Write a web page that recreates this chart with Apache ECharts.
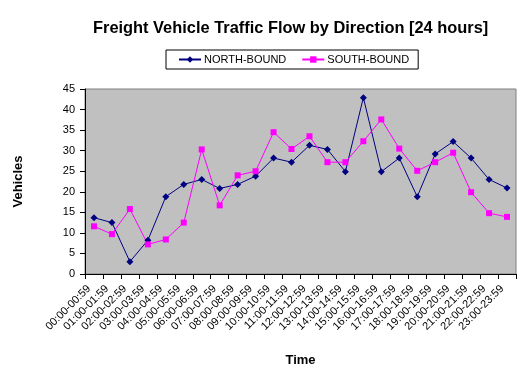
<!DOCTYPE html>
<html><head><meta charset="utf-8">
<script src="https://cdn.jsdelivr.net/npm/echarts@6/dist/echarts.min.js"></script>
<style>html,body{margin:0;padding:0;background:#fff}#c{width:530px;height:375px}</style>
</head><body><div id="c"></div>
<script>
const categories = ["00:00-00:59","01:00-01:59","02:00-02:59","03:00-03:59","04:00-04:59","05:00-05:59","06:00-06:59","07:00-07:59","08:00-08:59","09:00-09:59","10:00-10:59","11:00-11:59","12:00-12:59","13:00-13:59","14:00-14:59","15:00-15:59","16:00-16:59","17:00-17:59","18:00-18:59","19:00-19:59","20:00-20:59","21:00-21:59","22:00-22:59","23:00-23:59"];
const northBound = [13.7,12.5,3.0,8.2,18.8,21.8,23.0,20.8,21.8,23.8,28.2,27.2,31.3,30.3,24.9,42.9,24.9,28.2,18.8,29.2,32.2,28.2,23.0,20.9];
const southBound = [11.6,9.7,15.8,7.2,8.4,12.5,30.3,16.7,24.0,25.0,34.5,30.4,33.5,27.2,27.2,32.3,37.6,30.5,25.1,27.2,29.5,19.9,14.8,13.9];
const yTicks = {min:0,max:45,interval:5};

const chart = echarts.init(document.getElementById('c'), null, {renderer:'canvas'});
const font = 'Arial, "Liberation Sans", sans-serif';
chart.setOption({
  animation:false,
  backgroundColor:'#ffffff',
  title:{text:'Freight Vehicle Traffic Flow by Direction [24 hours]',left:88,top:15,
    textStyle:{fontFamily:font,fontSize:16.4,fontWeight:'bold',color:'#000'}},
  legend:{top:50,left:166,itemGap:15,itemWidth:22,itemHeight:8,
    borderColor:'#000',borderWidth:1,borderRadius:0,padding:[4,9,4,12],
    textStyle:{fontFamily:font,fontSize:11,color:'#000',padding:[0,0,0,-2]},
    data:['NORTH-BOUND','SOUTH-BOUND']},
  grid:{left:85,right:14,top:89,bottom:101,show:true,backgroundColor:'#C0C0C0',borderColor:'#808080',borderWidth:1},
  xAxis:{type:'category',data:categories,boundaryGap:true,
    name:'Time',nameLocation:'middle',nameGap:80,
    nameTextStyle:{fontFamily:font,fontSize:13,fontWeight:'bold',color:'#000'},
    axisLine:{lineStyle:{color:'#000'}},
    axisTick:{show:true,alignWithLabel:false,length:5,lineStyle:{color:'#000'}},
    axisLabel:{interval:0,rotate:45,fontFamily:font,fontSize:11,color:'#000',margin:8,padding:[0,7,0,0]},
    splitLine:{show:false}},
  yAxis:{type:'value',min:yTicks.min,max:yTicks.max,interval:yTicks.interval,
    name:'Vehicles',nameLocation:'middle',nameGap:60,nameRotate:90,
    nameTextStyle:{fontFamily:font,fontSize:13,fontWeight:'bold',color:'#000'},
    axisLine:{show:true,lineStyle:{color:'#000'}},
    axisTick:{show:true,length:5,lineStyle:{color:'#000'}},
    axisLabel:{fontFamily:font,fontSize:11,color:'#000',margin:10},
    splitLine:{show:false}},
  series:[
    {name:'NORTH-BOUND',type:'line',data:northBound,symbol:'diamond',symbolSize:7,
      lineStyle:{color:'#000080',width:1},itemStyle:{color:'#000080'}},
    {name:'SOUTH-BOUND',type:'line',data:southBound,symbol:'rect',symbolSize:6,
      lineStyle:{color:'#FF00FF',width:1},itemStyle:{color:'#FF00FF'}}
  ]
});
</script></body></html>
